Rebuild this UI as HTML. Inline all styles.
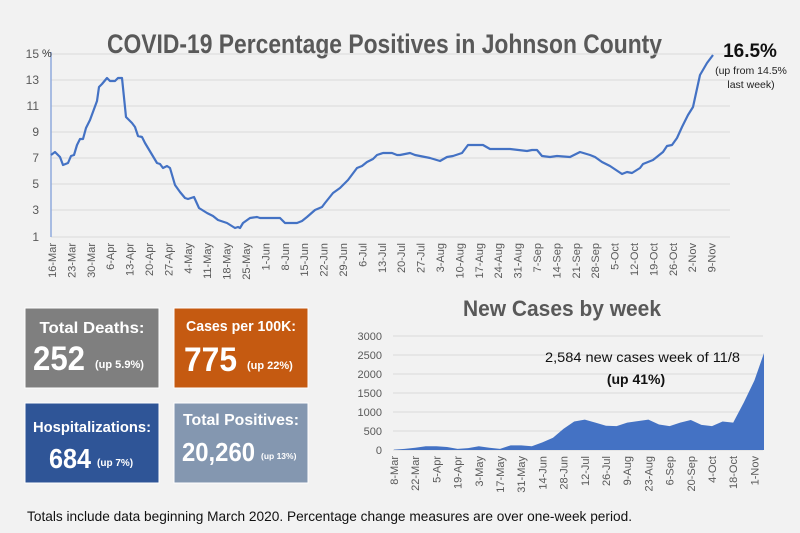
<!DOCTYPE html>
<html><head><meta charset="utf-8"><style>
html,body{margin:0;padding:0;background:#f2f2f2;}
svg{display:block;font-family:"Liberation Sans",sans-serif;}
</style></head><body>
<svg width="800" height="533" viewBox="0 0 800 533">
<rect width="800" height="533" fill="#f2f2f2"/>
<text x="107" y="53" font-size="27" font-weight="bold" fill="#595959" textLength="555" lengthAdjust="spacingAndGlyphs">COVID-19 Percentage Positives in Johnson County</text>
<g stroke="#d9d9d9" stroke-width="1">
<line x1="51" x2="730" y1="54" y2="54"/><line x1="51" x2="730" y1="80" y2="80"/><line x1="51" x2="730" y1="106" y2="106"/><line x1="51" x2="730" y1="132" y2="132"/><line x1="51" x2="730" y1="158" y2="158"/><line x1="51" x2="730" y1="184" y2="184"/><line x1="51" x2="730" y1="210" y2="210"/><line x1="51" x2="730" y1="237" y2="237"/>
</g>
<line x1="51" x2="51" y1="52" y2="237" stroke="#8faadc" stroke-width="1.5"/>
<g font-size="12" fill="#595959" text-anchor="end">
<text x="39" y="58">15</text><text x="39" y="84">13</text><text x="39" y="110">11</text><text x="39" y="136">9</text><text x="39" y="162">7</text><text x="39" y="188">5</text><text x="39" y="214">3</text><text x="39" y="241">1</text>
</g>
<text x="42" y="57" font-size="11" fill="#333">%</text>
<polyline fill="none" stroke="#4472c4" stroke-width="2.2" stroke-linejoin="round" points="51,155 55,152 60,157 63,165 68,163 71,156 74,155 77,145 80,139 83,139 86,128 90,120 97,101 99,87 102,84 107,78 110,81 115,81 118,78 122,78 126,117 132,123 135,127 138,136 142,137 145,143 157,163 160,164 163,168 167,166 170,168 175,185 180,192 185,198 188,199 194,197 199,208 207,213 213,216 218,220 227,223 235,228 238,227 240,228 243,223 250,218 257,217 260,218 267,218 270,218 280,218 285,223 297,223 302,221 307,217 315,210 322,207 325,203 333,193 340,188 348,180 357,168 362,166 367,162 373,159 377,155 383,153 392,153 397,155 400,155 410,153 415,155 425,157 430,158 440,161 447,157 453,156 462,153 468,145 483,145 490,149 510,149 527,151 532,150 537,150 542,156 550,157 557,156 570,157 580,152 590,155 595,157 602,162 610,166 622,174 627,172 632,173 640,168 643,164 653,160 663,152 667,146 672,145 677,138 682,127 688,115 693,107 700,75 707,63 713,55"/>
<g font-size="11" fill="#595959" text-anchor="end">
<text transform="translate(56,243) rotate(-90)">16-Mar</text>
<text transform="translate(75.4,243) rotate(-90)">23-Mar</text>
<text transform="translate(94.8,243) rotate(-90)">30-Mar</text>
<text transform="translate(114.2,243) rotate(-90)">6-Apr</text>
<text transform="translate(133.6,243) rotate(-90)">13-Apr</text>
<text transform="translate(153,243) rotate(-90)">20-Apr</text>
<text transform="translate(172.4,243) rotate(-90)">27-Apr</text>
<text transform="translate(191.8,243) rotate(-90)">4-May</text>
<text transform="translate(211.2,243) rotate(-90)">11-May</text>
<text transform="translate(230.6,243) rotate(-90)">18-May</text>
<text transform="translate(250,243) rotate(-90)">25-May</text>
<text transform="translate(269.4,243) rotate(-90)">1-Jun</text>
<text transform="translate(288.8,243) rotate(-90)">8-Jun</text>
<text transform="translate(308.2,243) rotate(-90)">15-Jun</text>
<text transform="translate(327.6,243) rotate(-90)">22-Jun</text>
<text transform="translate(347,243) rotate(-90)">29-Jun</text>
<text transform="translate(366.4,243) rotate(-90)">6-Jul</text>
<text transform="translate(385.8,243) rotate(-90)">13-Jul</text>
<text transform="translate(405.2,243) rotate(-90)">20-Jul</text>
<text transform="translate(424.6,243) rotate(-90)">27-Jul</text>
<text transform="translate(444,243) rotate(-90)">3-Aug</text>
<text transform="translate(463.4,243) rotate(-90)">10-Aug</text>
<text transform="translate(482.8,243) rotate(-90)">17-Aug</text>
<text transform="translate(502.2,243) rotate(-90)">24-Aug</text>
<text transform="translate(521.6,243) rotate(-90)">31-Aug</text>
<text transform="translate(541,243) rotate(-90)">7-Sep</text>
<text transform="translate(560.4,243) rotate(-90)">14-Sep</text>
<text transform="translate(579.8,243) rotate(-90)">21-Sep</text>
<text transform="translate(599.2,243) rotate(-90)">28-Sep</text>
<text transform="translate(618.6,243) rotate(-90)">5-Oct</text>
<text transform="translate(638,243) rotate(-90)">12-Oct</text>
<text transform="translate(657.4,243) rotate(-90)">19-Oct</text>
<text transform="translate(676.8,243) rotate(-90)">26-Oct</text>
<text transform="translate(696.2,243) rotate(-90)">2-Nov</text>
<text transform="translate(715.6,243) rotate(-90)">9-Nov</text>
</g>
<text x="750" y="57" font-size="19" font-weight="bold" fill="#111" text-anchor="middle">16.5%</text>
<text x="751" y="74" font-size="10.5" fill="#222" text-anchor="middle">(up from 14.5%</text>
<text x="751" y="88" font-size="10.5" fill="#222" text-anchor="middle">last week)</text>

<rect x="25" y="308" width="134" height="80" fill="#7f7f7f" stroke="#fff" stroke-width="1"/>
<rect x="174" y="308" width="134" height="80" fill="#c55a11" stroke="#fff" stroke-width="1"/>
<rect x="25" y="403" width="134" height="80" fill="#2f5597" stroke="#fff" stroke-width="1"/>
<rect x="174" y="403" width="134" height="80" fill="#8497b0" stroke="#fff" stroke-width="1"/>
<g fill="#fff" font-weight="bold">
<text x="92" y="333" font-size="16" text-anchor="middle" textLength="105" lengthAdjust="spacingAndGlyphs">Total Deaths:</text>
<text x="33" y="370" font-size="34" textLength="52" lengthAdjust="spacingAndGlyphs">252</text>
<text x="95" y="368" font-size="11">(up 5.9%)</text>
<text x="241" y="331" font-size="15" text-anchor="middle" textLength="110" lengthAdjust="spacingAndGlyphs">Cases per 100K:</text>
<text x="184" y="371" font-size="34" textLength="53" lengthAdjust="spacingAndGlyphs">775</text>
<text x="247" y="369" font-size="11">(up 22%)</text>
<text x="92" y="432" font-size="15" text-anchor="middle" textLength="118" lengthAdjust="spacingAndGlyphs">Hospitalizations:</text>
<text x="49" y="468" font-size="28" textLength="42" lengthAdjust="spacingAndGlyphs">684</text>
<text x="97" y="466" font-size="10">(up 7%)</text>
<text x="241" y="425" font-size="16" text-anchor="middle" textLength="116" lengthAdjust="spacingAndGlyphs">Total Positives:</text>
<text x="182" y="461" font-size="26" textLength="73" lengthAdjust="spacingAndGlyphs">20,260</text>
<text x="261" y="459" font-size="8.5">(up 13%)</text>
</g>

<text x="463" y="316" font-size="22" font-weight="bold" fill="#595959" textLength="198" lengthAdjust="spacingAndGlyphs">New Cases by week</text>
<g stroke="#d9d9d9" stroke-width="1">
<line x1="393" x2="763" y1="336" y2="336"/><line x1="393" x2="763" y1="355" y2="355"/><line x1="393" x2="763" y1="374" y2="374"/><line x1="393" x2="763" y1="393" y2="393"/><line x1="393" x2="763" y1="412" y2="412"/><line x1="393" x2="763" y1="431" y2="431"/><line x1="393" x2="763" y1="450" y2="450"/>
</g>
<g font-size="11" fill="#595959" text-anchor="end">
<text x="382" y="340">3000</text><text x="382" y="359">2500</text><text x="382" y="378">2000</text><text x="382" y="397">1500</text><text x="382" y="416">1000</text><text x="382" y="435">500</text><text x="382" y="454">0</text>
</g>
<polygon fill="#4472c4" points="394,450 394,449.6 404.6,448.9 415.2,447.7 425.8,446.2 436.4,446.2 447,447 457.6,448.9 468.2,448.1 478.8,446.2 489.4,447.7 500,448.9 510.6,445.4 521.2,445.4 531.8,446.2 542.4,442.4 553,437.8 563.6,428.7 574.2,421.5 584.8,419.6 595.4,422.6 606,425.7 616.6,426.1 627.2,422.6 637.8,421.1 648.4,419.6 659,424.5 669.6,426.1 680.2,422.6 690.8,420 701.4,424.9 712,426.1 722.6,421.5 733.2,422.6 743.8,402.5 754.4,380.5 764,353 764,450"/>
<text x="545" y="362" font-size="14" fill="#111" textLength="195" lengthAdjust="spacingAndGlyphs">2,584 new cases week of 11/8</text>
<text x="636" y="384" font-size="14" font-weight="bold" fill="#111" text-anchor="middle">(up 41%)</text>
<g font-size="11" fill="#595959" text-anchor="end">
<text transform="translate(398,456) rotate(-90)">8-Mar</text>
<text transform="translate(419.2,456) rotate(-90)">22-Mar</text>
<text transform="translate(440.4,456) rotate(-90)">5-Apr</text>
<text transform="translate(461.6,456) rotate(-90)">19-Apr</text>
<text transform="translate(482.8,456) rotate(-90)">3-May</text>
<text transform="translate(504,456) rotate(-90)">17-May</text>
<text transform="translate(525.2,456) rotate(-90)">31-May</text>
<text transform="translate(546.4,456) rotate(-90)">14-Jun</text>
<text transform="translate(567.6,456) rotate(-90)">28-Jun</text>
<text transform="translate(588.8,456) rotate(-90)">12-Jul</text>
<text transform="translate(610,456) rotate(-90)">26-Jul</text>
<text transform="translate(631.2,456) rotate(-90)">9-Aug</text>
<text transform="translate(652.4,456) rotate(-90)">23-Aug</text>
<text transform="translate(673.6,456) rotate(-90)">6-Sep</text>
<text transform="translate(694.8,456) rotate(-90)">20-Sep</text>
<text transform="translate(716,456) rotate(-90)">4-Oct</text>
<text transform="translate(737.2,456) rotate(-90)">18-Oct</text>
<text transform="translate(758.4,456) rotate(-90)">1-Nov</text>
</g>
<text x="27" y="521" font-size="14" fill="#111" textLength="605" lengthAdjust="spacingAndGlyphs">Totals include data beginning March 2020.  Percentage change measures are over one-week period.</text>
</svg>
</body></html>
